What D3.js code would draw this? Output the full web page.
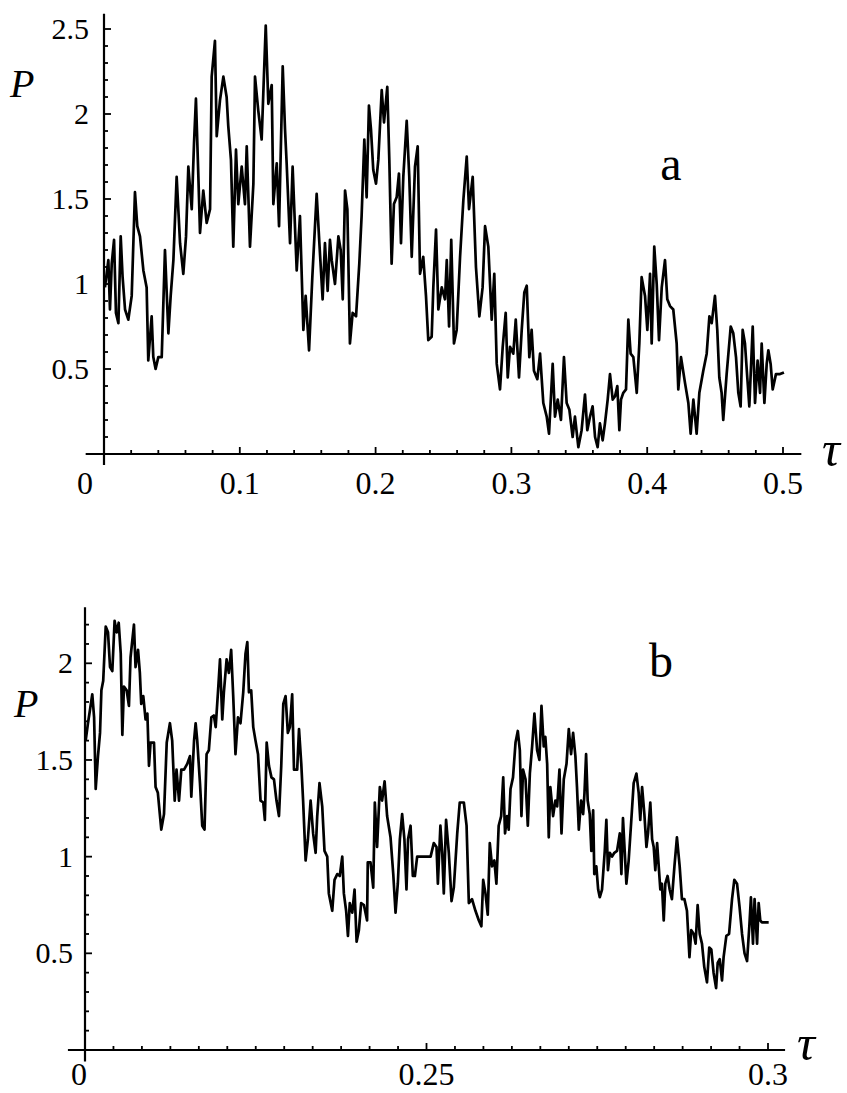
<!DOCTYPE html>
<html>
<head>
<meta charset="utf-8">
<script src="https://cdn.jsdelivr.net/npm/d3@7"></script>
<style>
  html, body { margin: 0; padding: 0; background: #fff; }
  svg { display: block; }
</style>
</head>
<body>
<svg id="chart" width="847" height="1093"></svg>
<script>
// ---------------- DATA ----------------
// Panel a
const aTau = [0.0007,0.0032,0.0044,0.0057,0.0074,0.0088,0.0106,0.0123,0.0137,0.0155,0.0179,0.0204,0.0228,0.0245,0.0265,0.0290,0.0314,0.0326,0.0351,0.0363,0.0380,0.0400,0.0425,0.0449,0.0474,0.0491,0.0511,0.0535,0.0560,0.0584,0.0604,0.0621,0.0646,0.0663,0.0677,0.0695,0.0707,0.0731,0.0756,0.0781,0.0793,0.0817,0.0830,0.0854,0.0879,0.0903,0.0915,0.0935,0.0952,0.0972,0.0989,0.1014,0.1038,0.1051,0.1075,0.1100,0.1112,0.1136,0.1161,0.1173,0.1191,0.1210,0.1235,0.1247,0.1272,0.1289,0.1316,0.1333,0.1345,0.1370,0.1389,0.1419,0.1443,0.1468,0.1485,0.1510,0.1534,0.1566,0.1586,0.1610,0.1627,0.1647,0.1664,
  0.1677,0.1701,0.1726,0.1743,0.1758,0.1775,0.1792,0.1811,0.1831,0.1856,0.1880,0.1897,0.1917,0.1934,0.1951,0.1966,0.1983,0.2003,0.2020,0.2045,0.2062,0.2086,0.2101,0.2118,0.2135,0.2155,0.2172,0.2187,0.2204,0.2229,0.2248,0.2266,0.2290,0.2310,0.2327,0.2351,0.2371,0.2388,0.2413,0.2425,0.2445,0.2462,0.2487,0.2511,0.2524,0.2541,0.2557,0.2577,0.2597,0.2622,0.2646,0.2671,0.2688,0.2715,0.2739,0.2764,0.2788,0.2806,0.2830,0.2855,0.2874,0.2892,0.2916,0.2936,0.2958,0.2973,0.2990,0.3014,0.3032,0.3056,0.3076,0.3095,0.3113,0.3132,0.3149,0.3166,0.3191,0.3211,0.3235,0.3260,0.3277,0.3304,0.3321,0.3341,0.3365,
  0.3387,0.3407,0.3427,0.3451,0.3468,0.3493,0.3517,0.3542,0.3559,0.3579,0.3598,0.3616,0.3635,0.3652,0.3672,0.3689,0.3709,0.3726,0.3746,0.3763,0.3780,0.3795,0.3807,0.3824,0.3844,0.3861,0.3878,0.3898,0.3923,0.3942,0.3959,0.3984,0.4001,0.4021,0.4033,0.4052,0.4070,0.4087,0.4107,0.4131,0.4148,0.4168,0.4192,0.4217,0.4229,0.4249,0.4278,0.4303,0.4320,0.4340,0.4364,0.4384,0.4413,0.4438,0.4458,0.4475,0.4499,0.4516,0.4531,0.4548,0.4560,0.4585,0.4615,0.4634,0.4654,0.4671,0.4688,0.4703,0.4720,0.4737,0.4752,0.4777,0.4794,0.4813,0.4831,0.4843,0.4863,0.4880,0.4892,0.4909,0.4924,0.4948,0.4978,0.5007];
const aP = [0.98,1.14,0.85,1.12,1.26,0.83,0.77,1.28,1.04,0.85,0.79,0.93,1.54,1.34,1.28,1.08,0.98,0.55,0.81,0.57,0.50,0.57,0.57,1.20,0.71,0.93,1.14,1.63,1.24,1.06,1.28,1.69,1.44,1.83,2.09,1.63,1.30,1.55,1.36,1.44,2.22,2.43,1.87,2.08,2.22,2.10,1.93,1.73,1.22,1.79,1.47,1.69,1.47,1.81,1.22,1.59,2.22,2.02,1.85,2.12,2.52,2.06,2.17,1.47,1.71,1.34,2.28,1.91,1.71,1.24,1.69,1.08,1.40,0.73,0.93,0.61,1.04,1.53,1.24,0.91,1.24,0.96,1.26,
  1.14,1.00,1.28,1.20,0.91,1.55,1.44,0.65,0.83,0.81,1.12,1.40,1.85,1.51,2.05,1.91,1.67,1.59,1.73,2.14,1.95,2.16,1.73,1.12,1.47,1.51,1.65,1.24,1.63,1.96,1.63,1.16,1.69,1.81,1.06,1.16,0.93,0.67,0.69,0.98,1.32,0.85,0.98,0.91,1.14,0.75,1.26,0.65,0.73,1.16,1.49,1.75,1.44,1.63,1.10,0.81,0.98,1.34,1.22,0.79,1.06,0.53,0.38,0.63,0.83,0.45,0.63,0.59,0.79,0.45,0.73,0.95,0.99,0.57,0.73,0.49,0.44,0.59,0.30,0.22,0.12,0.53,0.22,0.32,0.20,
  0.57,0.30,0.26,0.10,0.22,0.04,0.14,0.35,0.14,0.22,0.28,0.10,0.04,0.18,0.08,0.18,0.32,0.47,0.32,0.34,0.40,0.14,0.32,0.36,0.38,0.79,0.59,0.57,0.36,0.65,1.04,0.93,0.73,1.06,0.65,1.22,1.00,0.67,0.98,1.14,0.91,0.87,0.85,0.65,0.38,0.57,0.42,0.30,0.12,0.32,0.12,0.36,0.49,0.59,0.81,0.77,0.93,0.73,0.45,0.36,0.20,0.47,0.75,0.71,0.57,0.36,0.28,0.73,0.65,0.45,0.28,0.75,0.30,0.55,0.36,0.65,0.30,0.53,0.61,0.53,0.38,0.47,0.47,0.48];

// Panel b
const bTau = [0.0003,0.0013,0.0022,0.0032,0.0040,0.0047,0.0057,0.0066,0.0072,0.0080,0.0091,0.0101,0.0110,0.0120,0.0130,0.0139,0.0148,0.0157,0.0164,0.0171,0.0183,0.0193,0.0200,0.0215,0.0222,0.0233,0.0241,0.0247,0.0256,0.0266,0.0274,0.0281,0.0288,0.0303,0.0310,0.0320,0.0335,0.0347,0.0359,0.0373,0.0383,0.0394,0.0402,0.0413,0.0423,0.0435,0.0449,0.0461,0.0467,0.0479,0.0486,0.0493,0.0505,0.0515,0.0525,0.0534,0.0544,0.0555,0.0566,0.0574,0.0584,0.0593,0.0603,0.0610,0.0622,0.0632,0.0642,0.0651,0.0661,0.0672,0.0683,0.0695,0.0705,0.0713,0.0720,0.0730,0.0739,0.0749,0.0760,0.0771,0.0783,0.0790,0.0798,0.0808,0.0819,0.0830,0.0841,0.0852,0.0862,0.0871,0.0881,0.0891,0.0900,0.0910,0.0918,0.0932,0.0940,0.0950,0.0958,0.0969,0.0979,0.0991,0.1002,
  0.1013,0.1020,0.1030,0.1042,0.1052,0.1064,0.1071,0.1086,0.1096,0.1108,0.1119,0.1130,0.1137,0.1147,0.1155,0.1163,0.1174,0.1184,0.1193,0.1203,0.1213,0.1225,0.1239,0.1242,0.1254,0.1266,0.1273,0.1283,0.1295,0.1305,0.1316,0.1327,0.1342,0.1354,0.1364,0.1374,0.1383,0.1393,0.1403,0.1412,0.1419,0.1430,0.1440,0.1449,0.1459,0.1474,0.1496,0.1518,0.1532,0.1544,0.1550,0.1561,0.1569,0.1576,0.1586,0.1598,0.1610,0.1620,0.1635,0.1646,0.1664,0.1676,0.1686,0.1700,0.1715,0.1730,0.1741,0.1749,0.1759,0.1769,0.1778,0.1788,0.1798,0.1807,0.1817,0.1828,0.1837,0.1845,0.1854,0.1861,0.1869,0.1880,0.1891,0.1901,0.1910,0.1917,0.1924,0.1935,0.1945,0.1954,0.1964,0.1974,0.1986,0.1996,0.2005,0.2015,0.2022,
  0.2030,0.2037,0.2044,0.2056,0.2066,0.2074,0.2084,0.2093,0.2103,0.2115,0.2125,0.2135,0.2144,0.2154,0.2161,0.2169,0.2179,0.2188,0.2194,0.2201,0.2208,0.2217,0.2224,0.2232,0.2237,0.2246,0.2254,0.2261,0.2271,0.2283,0.2290,0.2297,0.2305,0.2315,0.2325,0.2337,0.2349,0.2356,0.2363,0.2371,0.2378,0.2388,0.2398,0.2410,0.2422,0.2432,0.2439,0.2447,0.2457,0.2466,0.2473,0.2483,0.2491,0.2498,0.2505,0.2513,0.2520,0.2527,0.2534,0.2542,0.2549,0.2559,0.2568,0.2578,0.2589,0.2600,0.2612,0.2622,0.2633,0.2644,0.2655,0.2663,0.2674,0.2682,0.2691,0.2700,0.2710,0.2720,0.2732,0.2742,0.2751,0.2761,0.2772,0.2779,0.2788,0.2798,0.2805,0.2817,0.2829,0.2842,0.2852,0.2864,0.2875,0.2886,0.2897,0.2908,0.2918,0.2925,0.2934,0.2941,0.2952,0.2959,0.2966,0.2973,0.2988,0.3003];
const bP = [1.60,1.69,1.76,1.84,1.72,1.35,1.52,1.64,1.86,1.91,2.19,2.16,1.98,1.96,2.22,2.16,2.21,2.05,1.63,1.88,1.86,1.78,2.03,2.20,1.98,2.07,1.95,1.79,1.83,1.71,1.74,1.47,1.59,1.59,1.36,1.33,1.14,1.22,1.59,1.69,1.60,1.29,1.45,1.29,1.45,1.45,1.48,1.52,1.31,1.60,1.69,1.60,1.38,1.16,1.14,1.53,1.55,1.72,1.73,1.67,1.85,2.02,1.71,1.85,2.02,1.95,2.07,1.83,1.53,1.72,1.69,1.85,2.05,2.11,1.85,1.86,1.67,1.60,1.53,1.29,1.28,1.19,1.59,1.47,1.41,1.40,1.29,1.21,1.47,1.79,1.83,1.64,1.67,1.84,1.45,1.45,1.66,1.48,1.29,0.98,1.09,1.29,1.12,
  1.02,1.21,1.38,1.26,1.03,1.00,0.81,0.72,0.88,0.91,0.90,1.00,0.81,0.72,0.59,0.76,0.71,0.83,0.56,0.62,0.76,0.75,0.67,0.97,0.97,0.84,1.28,1.05,1.36,1.29,1.39,1.21,1.10,0.91,0.71,0.86,1.09,1.22,1.09,0.83,1.09,1.16,0.90,0.90,1.00,1.00,1.00,1.00,1.07,1.05,0.86,1.16,1.02,0.81,1.19,1.02,0.77,0.84,1.12,1.28,1.28,1.16,0.76,0.78,0.72,0.67,0.64,0.88,0.81,0.70,1.07,0.95,0.98,0.86,1.16,1.21,1.41,1.12,1.21,1.14,1.35,1.41,1.59,1.65,1.55,1.21,1.45,1.40,1.16,1.43,1.57,1.74,1.55,1.50,1.78,1.57,1.62,
  1.48,1.10,1.36,1.21,1.29,1.26,1.45,1.12,1.40,1.48,1.66,1.53,1.64,1.52,1.36,1.14,1.29,1.22,1.33,1.53,1.29,1.22,1.03,1.24,0.91,0.95,0.83,0.79,0.83,1.03,1.19,0.93,1.02,1.00,1.02,1.03,1.12,0.91,1.20,1.02,0.86,0.98,1.16,1.38,1.43,1.33,1.19,1.36,1.22,1.05,1.12,1.28,1.09,1.05,0.93,1.07,0.95,0.83,0.86,0.67,0.86,0.90,0.83,0.78,0.95,1.10,0.95,0.78,0.78,0.72,0.48,0.62,0.60,0.55,0.75,0.60,0.55,0.43,0.35,0.53,0.52,0.40,0.32,0.45,0.47,0.36,0.48,0.59,0.60,0.78,0.88,0.86,0.74,0.60,0.50,0.46,0.64,0.79,0.55,0.78,0.55,0.76,0.67,0.66,0.66,0.66];

// Tick values / labels
const aXTickValues = [0, 0.1, 0.2, 0.3, 0.4, 0.5];
const aXTickLabels = ["0", "0.1", "0.2", "0.3", "0.4", "0.5"];
const aYTickValues = [0.5, 1, 1.5, 2, 2.5];
const aYTickLabels = ["0.5", "1", "1.5", "2", "2.5"];
const bXTickValues = [0, 0.15, 0.3];
const bXTickLabels = ["0", "0.25", "0.3"];
const bYTickValues = [0.5, 1, 1.5, 2];
const bYTickLabels = ["0.5", "1", "1.5", "2"];

// ---------------- DRAWING ----------------
const FONT = "Liberation Serif";
const svg = d3.select("#chart");

function panel(cfg) {
  const g = svg.append("g");
  const x = d3.scaleLinear().domain(cfg.xDomain).range(cfg.xRange);
  const y = d3.scaleLinear().domain(cfg.yDomain).range(cfg.yRange);
  const isMajor = (arr, v) => arr.some(m => Math.abs(m - v) < 1e-9);

  // axes lines
  g.append("line")
    .attr("x1", x(cfg.xAxisExt[0])).attr("x2", x(cfg.xAxisExt[1]))
    .attr("y1", y(0)).attr("y2", y(0))
    .attr("stroke", "#000").attr("stroke-width", 2.2);
  g.append("line")
    .attr("x1", x(0)).attr("x2", x(0))
    .attr("y1", y(cfg.yAxisExt[0])).attr("y2", y(cfg.yAxisExt[1]))
    .attr("stroke", "#000").attr("stroke-width", 2.2);

  // x ticks (pointing up)
  g.selectAll(".xt").data(cfg.xMinor).enter().append("line")
    .attr("x1", d => x(d)).attr("x2", d => x(d))
    .attr("y1", y(0)).attr("y2", d => y(0) - (isMajor(cfg.xTickValues, d) ? 7 : 4))
    .attr("stroke", "#000").attr("stroke-width", 1.8);
  // y ticks (pointing right)
  g.selectAll(".yt").data(cfg.yMinor).enter().append("line")
    .attr("x1", x(0)).attr("x2", d => x(0) + (isMajor(cfg.yTickValues, d) ? 7 : 4))
    .attr("y1", d => y(d)).attr("y2", d => y(d))
    .attr("stroke", "#000").attr("stroke-width", 1.8);

  // x labels
  g.selectAll(".xlab").data(cfg.xTickValues).enter().append("text")
    .attr("font-family", FONT)
    .attr("x", d => x(d) + (d === 0 ? cfg.zeroShift : 0))
    .attr("y", cfg.xLabelBaseline)
    .attr("text-anchor", "middle")
    .attr("font-size", cfg.xLabelSize)
    .text((d, i) => cfg.xTickLabels[i]);

  // y labels
  g.selectAll(".ylab").data(cfg.yTickValues).enter().append("text")
    .attr("font-family", FONT)
    .attr("x", cfg.yLabelRight)
    .attr("y", d => y(d))
    .attr("dy", "0.33em")
    .attr("text-anchor", "end")
    .attr("font-size", cfg.yLabelSize)
    .text((d, i) => cfg.yTickLabels[i]);

  // the series
  const pts = cfg.tau.map((t, i) => [t, cfg.p[i]]);
  g.append("path")
    .datum(pts)
    .attr("fill", "none")
    .attr("stroke", "#000")
    .attr("stroke-width", 2.7)
    .attr("stroke-linejoin", "round")
    .attr("d", d3.line().x(d => x(d[0])).y(d => y(d[1])));

  // axis titles and panel letter
  g.append("text").attr("font-family", FONT).attr("x", cfg.pPos[0]).attr("y", cfg.pPos[1])
    .attr("font-size", 40).attr("font-style", "italic").text("P");
  g.append("text").attr("font-family", FONT).attr("x", cfg.tauPos[0]).attr("y", cfg.tauPos[1])
    .attr("font-size", 50).attr("font-style", "italic").text("τ");
  g.append("text").attr("font-family", FONT).attr("x", cfg.letterPos[0]).attr("y", cfg.letterPos[1])
    .attr("text-anchor", "middle")
    .attr("font-size", 48).text(cfg.letter);
}

panel({
  tau: aTau, p: aP,
  xDomain: [0, 0.5], xRange: [104, 783],
  yDomain: [0, 2.5], yRange: [454, 29],
  xAxisExt: [-0.0135, 0.5135], yAxisExt: [-0.065, 2.59],
  xMinor: d3.range(1, 26).map(i => i * 0.02),
  yMinor: d3.range(1, 26).map(i => i / 10),
  xTickValues: aXTickValues, xTickLabels: aXTickLabels,
  yTickValues: aYTickValues, yTickLabels: aYTickLabels,
  zeroShift: -19, xLabelBaseline: 494, xLabelSize: 32,
  yLabelRight: 89, yLabelSize: 30,
  pPos: [10, 97], tauPos: [822, 466], letterPos: [671, 180], letter: "a"
});

panel({
  tau: bTau, p: bP,
  xDomain: [0, 0.3], xRange: [85, 768],
  yDomain: [0, 2], yRange: [1050, 663.3],
  xAxisExt: [-0.0075, 0.3075], yAxisExt: [-0.06, 2.29],
  xMinor: d3.range(1, 25).map(i => i * 0.0125),
  yMinor: d3.range(1, 23).map(i => i / 10),
  xTickValues: bXTickValues, xTickLabels: bXTickLabels,
  yTickValues: bYTickValues, yTickLabels: bYTickLabels,
  zeroShift: -6, xLabelBaseline: 1085, xLabelSize: 32,
  yLabelRight: 73, yLabelSize: 30,
  pPos: [14, 717], tauPos: [797, 1060], letterPos: [661, 677], letter: "b"
});
</script>
</body>
</html>
